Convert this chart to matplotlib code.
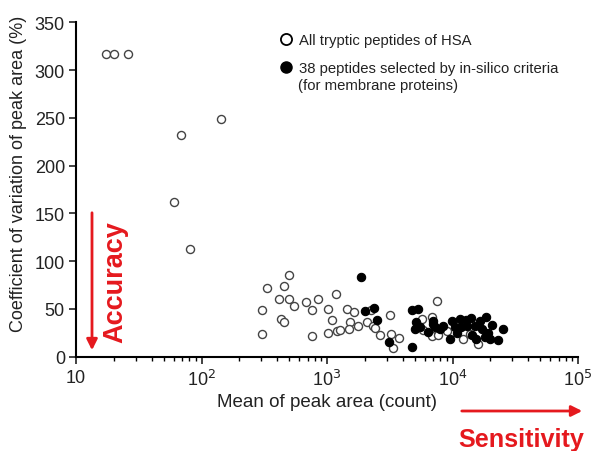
import matplotlib
matplotlib.use('Agg')
import matplotlib.pyplot as plt
from matplotlib.lines import Line2D

plt.rcParams['font.family'] = ['Liberation Sans', 'DejaVu Sans']

RED = '#e5191e'

# All tryptic peptides of HSA (open circles): mean peak area, CV (%)
hsa_x = [17.3, 20.1, 25.9, 68.7, 143, 60.4, 80.9,
         498, 331, 457, 415, 498, 548, 302, 430, 457, 302, 676, 764, 853,
         764, 1014, 1090, 1180, 1014, 1194, 1270,
         1452, 1641, 2229, 1524, 1506, 1775, 2094, 2312, 2399, 3177, 2643,
         3221, 3724, 3374,
         7568, 5691, 6827, 5848, 6827, 7711, 8995, 12050, 13770, 15890]
hsa_y = [317, 317, 317, 232, 249, 162, 113,
         85, 72, 74, 60, 60, 53, 49, 39, 36, 24, 57, 49, 60,
         21, 50, 38, 65, 25, 27, 28,
         50, 47, 49, 36, 29, 32, 36, 32, 30, 43, 22,
         24, 19, 9,
         58, 39, 41, 28, 21, 23, 27, 18, 24, 13]

# 38 peptides selected by in-silico criteria (filled circles)
sel_x = [1858, 2009, 2383, 2518, 3135, 4732, 5335, 5117, 5024, 4732,
         6950, 7262, 8453, 9550, 10470, 5508, 7000, 11480, 14030, 18410,
         11700, 12970, 15100, 17090, 14220, 18150, 19900, 22910, 25410, 19270,
         16560, 10790, 7943, 9910, 15380, 12820, 6385, 20650]
sel_y = [83, 48, 51, 38, 15, 49, 50, 36, 29, 10,
         34, 31, 32, 18, 31, 31, 37, 39, 40, 41,
         31, 32, 32, 29, 22, 20, 18, 17, 29, 25,
         37, 25, 29, 37, 18, 38, 26, 33]

y_ticks = [0, 50, 100, 150, 200, 250, 300, 350]
x_ticks = [10, 100, 1000, 10000, 100000]
x_tick_labels = ['10', '10$^2$', '10$^3$', '10$^4$', '10$^5$']

W, H = 599, 452
fig = plt.figure(figsize=(W / 100, H / 100), dpi=100)
ax = fig.add_axes([76 / W, 1 - 357.5 / H, (578 - 76) / W, (357.5 - 23.3) / H])

ax.plot(hsa_x, hsa_y, 'o', ms=5.8, mfc='white', mec='#444444', mew=1.0,
        linestyle='none', clip_on=False, zorder=3)
ax.plot(sel_x, sel_y, 'o', ms=6.0, mfc='black', mec='black', mew=0.8,
        linestyle='none', clip_on=False, zorder=4)

ax.set_xscale('log')
ax.set_xlim(10, 1e5)
ax.set_ylim(0, 350)
ax.set_xticks(x_ticks)
ax.set_xticklabels(x_tick_labels)
ax.set_yticks(y_ticks)
ax.tick_params(axis='both', which='major', direction='out', length=5, width=1.2,
               labelsize=13, colors='#222222')
ax.tick_params(axis='x', which='minor', direction='out', length=3, width=1.0)
ax.tick_params(axis='x', which='major', pad=4)
ax.tick_params(axis='y', which='major', pad=3)
for s in ['top', 'right']:
    ax.spines[s].set_visible(False)
for s in ['left', 'bottom']:
    ax.spines[s].set_linewidth(1.5)

ax.set_xlabel('Mean of peak area (count)', fontsize=13.5, labelpad=3, color='#222222')
ax.set_ylabel('Coefficient of variation of peak area (%)', fontsize=13,
              color='#222222')
ax.yaxis.set_label_coords(-0.097, 0.549)

# legend
handles = [Line2D([], [], marker='o', ms=8, mfc='white', mec='black', mew=1.3, ls='none'),
           Line2D([], [], marker='o', ms=8, mfc='black', mec='black', ls='none')]
labels = ['All tryptic peptides of HSA', '38 peptides selected by in-silico criteria']
leg = ax.legend(handles, labels, loc='upper left', bbox_to_anchor=(272 / W, 1 - 28 / H),
                bbox_transform=fig.transFigure, frameon=False, fontsize=10.7,
                handletextpad=0.3, handlelength=1.1, labelspacing=0.95, borderaxespad=0)
fig.text(298 / W, 1 - 86 / H, '(for membrane proteins)', fontsize=10.7,
         va='center', ha='left', color='#222222')
for t in leg.get_texts():
    t.set_color('#222222')

# accuracy / sensitivity arrows
ax.annotate('', xy=(92 / W, 1 - 354 / H), xytext=(92 / W, 1 - 211 / H),
            xycoords='figure fraction', textcoords='figure fraction',
            arrowprops=dict(arrowstyle='-|>', color=RED, lw=2, mutation_scale=16),
            annotation_clip=False)
fig.text(115 / W, 1 - 282 / H, 'Accuracy', rotation=90, color=RED, fontsize=19.5,
         fontweight='bold', ha='center', va='center')
ax.annotate('', xy=(585 / W, 1 - 412 / H), xytext=(459 / W, 1 - 412 / H),
            xycoords='figure fraction', textcoords='figure fraction',
            arrowprops=dict(arrowstyle='-|>', color=RED, lw=2, mutation_scale=16),
            annotation_clip=False)
fig.text(521 / W, 1 - 440 / H, 'Sensitivity', color=RED, fontsize=18.2,
         fontweight='bold', ha='center', va='center')

fig.savefig('out.png', dpi=100)
